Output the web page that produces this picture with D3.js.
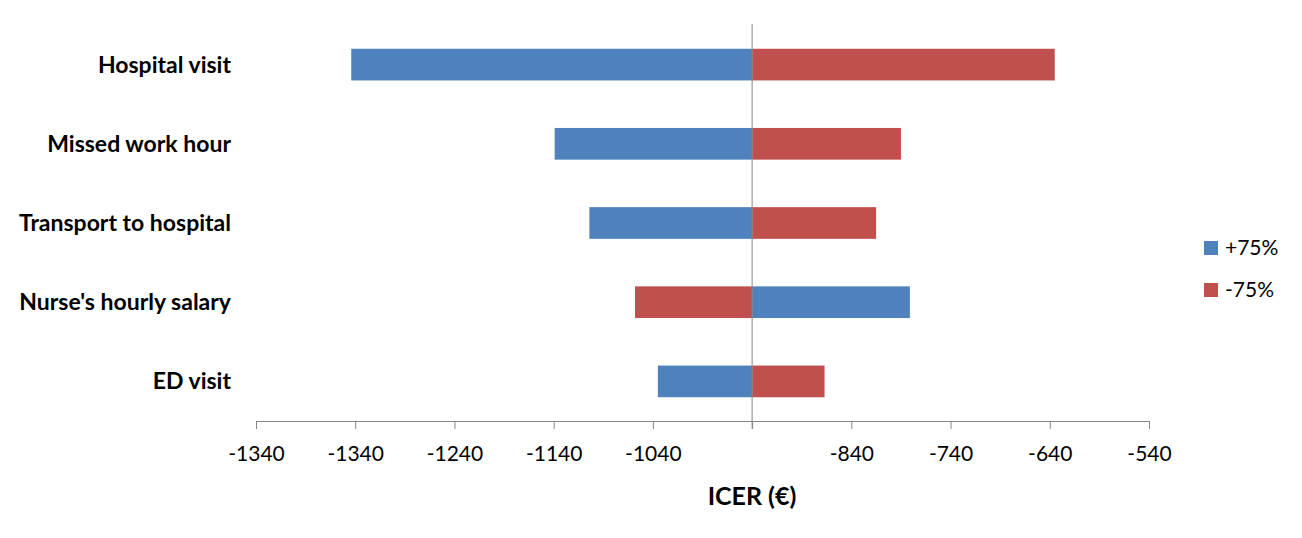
<!DOCTYPE html>
<html><head><meta charset="utf-8">
<script src="https://cdn.jsdelivr.net/npm/d3@7"></script>
<style>body{margin:0;background:#fff}svg{display:block}</style>
</head><body><svg id="c" width="1302" height="538"></svg>
<script>
const categories = ["Hospital visit","Missed work hour","Transport to hospital","Nurse's hourly salary","ED visit"];
const baseValue = -940;
const plus75 = [-1344, -1139, -1104, -781, -1035];
const minus75 = [-635, -790, -815, -1058, -867];
const tickValues = [-1440,-1340,-1240,-1140,-1040,-940,-840,-740,-640,-540];
const tickLabels = ["-1340","-1340","-1240","-1140","-1040","","-840","-740","-640","-540"];
const seriesNames = ["+75%","-75%"];
const colors = ["#4F81BD","#C0504D"];

const svg = d3.select("#c");
const font = "Lato, 'Open Sans', sans-serif";
const x = d3.scaleLinear().domain([-1440,-540]).range([256,1149]);
const y = d3.scaleBand().domain(categories).range([25,421]).paddingInner(0.6).paddingOuter(0.3);

const rows = categories.map((c,i)=>({c, vals:[plus75[i], minus75[i]]}));
rows.forEach(r=>{
  r.vals.forEach((v,j)=>{
    svg.append("rect")
      .attr("x", Math.min(x(v), x(baseValue)))
      .attr("width", Math.abs(x(v)-x(baseValue)))
      .attr("y", y(r.c))
      .attr("height", y.bandwidth())
      .attr("fill", colors[j]);
  });
});

// x axis
const ax = svg.append("g").attr("transform","translate(0,421)")
  .call(d3.axisBottom(x).tickValues(tickValues).tickFormat((d,i)=>tickLabels[i]).tickSize(8).tickSizeOuter(0));
ax.select(".domain").attr("stroke","#868686");
ax.selectAll(".tick line").attr("stroke","#868686");
ax.selectAll(".tick text").attr("font-family",font).attr("font-size",21).attr("fill","#000").attr("y",25).attr("dy","0.71em");

// vertical base line
svg.append("line").attr("x1",x(baseValue)).attr("x2",x(baseValue)).attr("y1",24).attr("y2",429)
  .attr("stroke","#868686").attr("stroke-width",1);

// category labels
svg.selectAll(".cat").data(categories).join("text")
  .attr("x",231).attr("y",d=>y(d)+y.bandwidth()/2).attr("dy","0.35em")
  .attr("text-anchor","end").attr("font-family",font).attr("font-weight","bold").attr("font-size",23)
  .text(d=>d);

// axis title
svg.append("text").attr("x",752).attr("y",505).attr("text-anchor","middle")
  .attr("font-family",font).attr("font-weight","bold").attr("font-size",25).text("ICER (€)");

// legend
seriesNames.forEach((n,i)=>{
  const g = svg.append("g").attr("transform",`translate(1204,${241+i*42})`);
  g.append("rect").attr("width",14).attr("height",14).attr("fill",colors[i]);
  g.append("text").attr("x",21).attr("y",7).attr("dy","0.35em").attr("font-family",font).attr("font-size",21).text(n);
});
</script></body></html>
